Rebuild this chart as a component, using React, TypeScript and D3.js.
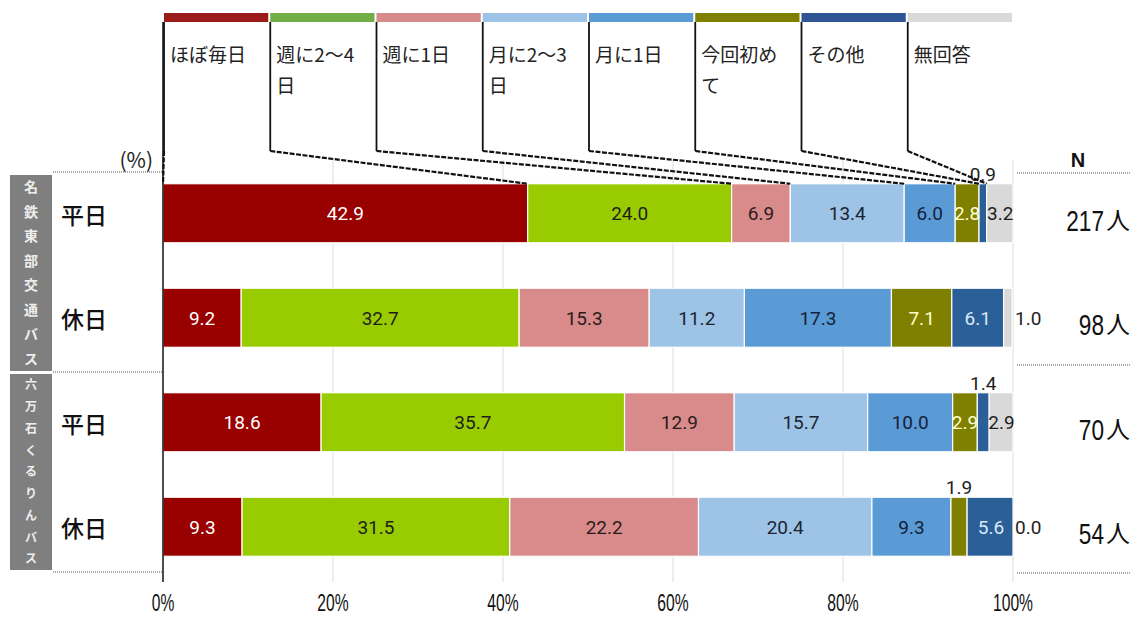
import { useEffect, useRef } from 'react'
import * as d3 from 'd3'

const categories = ['ほぼ毎日', '週に2～4日', '週に1日', '月に2～3日', '月に1日', '今回初めて', 'その他', '無回答']
const legendLines = [['ほぼ毎日'], ['週に2～4', '日'], ['週に1日'], ['月に2～3', '日'], ['月に1日'], ['今回初め', 'て'], ['その他'], ['無回答']]
const barColors = ['#990000', '#99cc00', '#d98b8b', '#9dc3e6', '#5b9bd5', '#808000', '#2b5f97', '#d9d9d9']
const legendColors = ['#9b1b1b', '#72ae48', '#d68b8b', '#9dc3e6', '#5b9bd5', '#808000', '#2f5597', '#d9d9d9']
const labelColors = ['#ffffff', '#1e1e1e', '#2a1c1c', '#1c2433', '#14213a', '#ffffd0', '#dbe8f7', '#1e1e1e']

const operators = ['名鉄東部交通バス', '六万石くるりんバス']
const dayTypes = ['平日', '休日']
const rowKeys = ['meitetsu-weekday', 'meitetsu-holiday', 'rokumangoku-weekday', 'rokumangoku-holiday']

const meitetsuWeekday = [42.9, 24.0, 6.9, 13.4, 6.0, 2.8, 0.9, 3.2]
const meitetsuHoliday = [9.2, 32.7, 15.3, 11.2, 17.3, 7.1, 6.1, 1.0]
const rokumangokuWeekday = [18.6, 35.7, 12.9, 15.7, 10.0, 2.9, 1.4, 2.9]
const rokumangokuHoliday = [9.3, 31.5, 22.2, 20.4, 9.3, 1.9, 5.6, 0.0]
const rowValues = [meitetsuWeekday, meitetsuHoliday, rokumangokuWeekday, rokumangokuHoliday]
const sampleSizes = [217, 98, 70, 54]

const xTicks = [0, 20, 40, 60, 80, 100]

const JP = '"Noto Sans CJK JP", sans-serif'
const NUM = 'Roboto, "Liberation Sans", sans-serif'
const SANS = '"Liberation Sans", Arial, sans-serif'

export default function App() {
    const svgRef = useRef<SVGSVGElement>(null)

    useEffect(() => {
        if (!svgRef.current) return
        const svg = d3.select(svgRef.current)
        svg.selectAll('*').remove()

        const width = 1131
        const height = 617
        const left = 163
        const right = 1013
        svg.attr('width', width).attr('height', height)

        const x = d3.scaleLinear().domain([0, 100]).range([left, right])
        const y = d3.scaleBand<string>()
            .domain(rowKeys)
            .range([161, 579])
            .paddingInner(0.435)
            .paddingOuter(0.2175)
        const bw = y.bandwidth()

        const legendX = d3.scaleBand<string>().domain(categories).range([left, right])
        const colW = legendX.bandwidth()

        const topLine = 172
        const midLine = 370
        const bottomLine = 572

        // gridlines
        svg.append('g')
            .selectAll('line')
            .data(xTicks.filter(t => t > 0))
            .enter()
            .append('line')
            .attr('x1', d => x(d))
            .attr('x2', d => x(d))
            .attr('y1', 160)
            .attr('y2', 582)
            .attr('stroke', '#dcdcdc')
            .attr('stroke-width', 1)

        // dotted separators
        const dotted = (x1: number, x2: number, yy: number) => {
            svg.append('line')
                .attr('x1', x1).attr('x2', x2).attr('y1', yy).attr('y2', yy)
                .attr('stroke', '#555').attr('stroke-width', 1).attr('stroke-dasharray', '1,1')
        }
        dotted(53, left, topLine)
        dotted(53, left, midLine + 2)
        dotted(53, left, bottomLine)
        dotted(1017, width, topLine + 1)
        dotted(1017, width, midLine - 5)
        dotted(1017, width, bottomLine + 1)

        // operator boxes
        operators.forEach((op, gi) => {
            const y0 = gi === 0 ? topLine + 3 : midLine + 4
            const y1 = gi === 0 ? midLine + 1 : bottomLine - 2
            svg.append('rect')
                .attr('x', 10).attr('y', y0).attr('width', 42).attr('height', y1 - y0)
                .attr('fill', '#7f7f7f')
            const chars = Array.from(op)
            const step = (y1 - y0) / chars.length
            svg.append('g')
                .selectAll('text')
                .data(chars)
                .enter()
                .append('text')
                .attr('x', 31)
                .attr('y', (_, i) => y0 + step * (i + 0.5))
                .attr('dy', '0.36em')
                .attr('text-anchor', 'middle')
                .attr('font-family', JP)
                .attr('font-weight', 700)
                .attr('font-size', gi === 0 ? 14 : 12)
                .attr('fill', '#eeeeee')
                .text(d => d)
        })

        // row labels
        svg.append('g')
            .selectAll('text')
            .data(rowKeys)
            .enter()
            .append('text')
            .attr('x', 61)
            .attr('y', d => (y(d) || 0) + bw / 2 + 2)
            .attr('dy', '0.36em')
            .attr('font-family', JP)
            .attr('font-weight', 500)
            .attr('font-size', 23)
            .attr('fill', '#111')
            .text((_, i) => dayTypes[i % 2])

        // stacked segments
        const rows = rowKeys.map((key, ri) => {
            let acc = 0
            return rowValues[ri].map((v, ci) => {
                const s = { key, ci, v, start: acc, end: acc + v }
                acc += v
                return s
            })
        })
        const segments = rows.flat()

        svg.append('g')
            .selectAll('rect')
            .data(segments.filter(d => d.v > 0))
            .enter()
            .append('rect')
            .attr('x', d => x(d.start))
            .attr('y', d => y(d.key) || 0)
            .attr('width', d => Math.max(0, x(Math.min(d.end, 100)) - x(d.start)))
            .attr('height', bw)
            .attr('fill', d => barColors[d.ci])
            .attr('stroke', '#ffffff')
            .attr('stroke-width', 1.2)

        // segment labels (tiny values go above the bar, or right of it when last)
        const lastIndex = categories.length - 1
        svg.append('g')
            .selectAll('text')
            .data(segments)
            .enter()
            .append('text')
            .attr('x', d => {
                if (d.v < 2.5 && d.ci === lastIndex) return x(100) + 2
                return x((d.start + d.end) / 2)
            })
            .attr('y', d => {
                const top = y(d.key) || 0
                if (d.v < 2.5 && d.ci !== lastIndex) return top - 10
                return top + bw / 2
            })
            .attr('dy', '0.36em')
            .attr('text-anchor', d => (d.v < 2.5 && d.ci === lastIndex ? 'start' : 'middle'))
            .attr('font-family', NUM)
            .attr('font-size', 19)
            .attr('fill', d => (d.v < 2.5 ? '#1e1e1e' : labelColors[d.ci]))
            .text(d => d.v.toFixed(1))

        // axis line
        svg.append('line')
            .attr('x1', left).attr('x2', left).attr('y1', 22).attr('y2', 582)
            .attr('stroke', '#111').attr('stroke-width', 1.5)

        // x tick labels (condensed)
        svg.append('g')
            .selectAll('text')
            .data(xTicks)
            .enter()
            .append('text')
            .attr('transform', d => `translate(${x(d)},603) scale(0.68,1)`)
            .attr('dy', '0.36em')
            .attr('text-anchor', 'middle')
            .attr('font-family', SANS)
            .attr('font-size', 23)
            .attr('fill', '#111')
            .text(d => `${d}%`)

        svg.append('text')
            .attr('x', 153).attr('y', 160).attr('dy', '0.36em')
            .attr('text-anchor', 'end')
            .attr('font-family', JP).attr('font-size', 21).attr('fill', '#222')
            .text('(%)')

        svg.append('text')
            .attr('x', 1078).attr('y', 160).attr('dy', '0.36em')
            .attr('text-anchor', 'middle')
            .attr('font-family', SANS).attr('font-weight', 700).attr('font-size', 20).attr('fill', '#111')
            .text('N')

        // N labels
        const nGroup = svg.append('g')
        rowKeys.forEach((key, i) => {
            const cy = (y(key) || 0) + bw / 2 + 7
            nGroup.append('text')
                .attr('transform', `translate(1104,${cy}) scale(0.78,1)`)
                .attr('dy', '0.36em')
                .attr('text-anchor', 'end')
                .attr('font-family', SANS)
                .attr('font-size', 29)
                .attr('fill', '#111')
                .text(String(sampleSizes[i]))
            nGroup.append('text')
                .attr('x', 1106).attr('y', cy).attr('dy', '0.36em')
                .attr('font-family', JP)
                .attr('font-size', 24)
                .attr('fill', '#111')
                .text('人')
        })

        // legend strips, labels and leader lines
        const firstTop = y(rowKeys[0]) || 0
        const legend = svg.append('g')
        categories.forEach((cat, ci) => {
            const lx = legendX(cat) || 0
            const target = x(rows[0][ci].start)
            legend.append('rect')
                .attr('x', lx + 1).attr('y', 13).attr('width', colW - 2).attr('height', 9)
                .attr('fill', legendColors[ci])
            legendLines[ci].forEach((line, li) => {
                legend.append('text')
                    .attr('x', lx + 7).attr('y', 62 + li * 31)
                    .attr('font-family', JP).attr('font-size', 19).attr('fill', '#222')
                    .text(line)
            })
            legend.append('line')
                .attr('x1', lx + 1).attr('x2', lx + 1).attr('y1', 22).attr('y2', 151)
                .attr('stroke', '#111').attr('stroke-width', 1.8)
            legend.append('line')
                .attr('x1', lx + 1).attr('y1', 151).attr('x2', target).attr('y2', firstTop)
                .attr('stroke', '#111').attr('stroke-width', 2.2)
                .attr('stroke-dasharray', '5,1.5')
        })
    }, [])

    return <svg ref={svgRef} style={{ position: 'absolute', left: 0, top: 0, background: '#fff' }} />
}
